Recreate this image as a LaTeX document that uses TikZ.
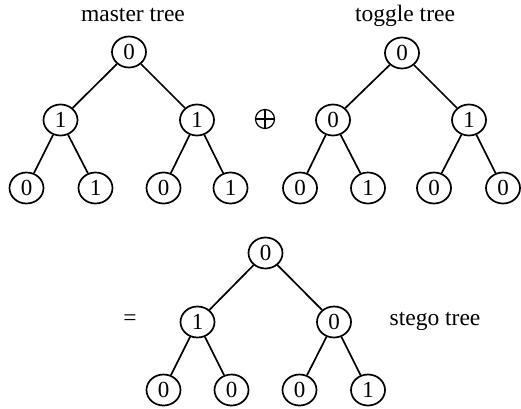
\documentclass[tikz,border=0pt]{standalone}
\usepackage{fontspec}
\setmainfont{Liberation Serif}
\usetikzlibrary{shapes.geometric}
\begin{document}
\begin{tikzpicture}[x=1pt,y=-1pt,
  tnode/.style={draw,ellipse,line width=1.7pt,minimum width=34pt,minimum height=31pt,inner sep=0pt,font=\fontsize{23}{27}\selectfont},
  edge/.style={line width=1.7pt},
  lbl/.style={font=\fontsize{23.5}{27}\selectfont,inner sep=0pt,anchor=base},
  opstyle/.style={draw,circle,line width=1.2pt,minimum size=19pt,inner sep=0pt,
    path picture={\draw[line width=1.2pt] (path picture bounding box.north) -- (path picture bounding box.south)
      (path picture bounding box.west) -- (path picture bounding box.east);}}]
\useasboundingbox (0,0) rectangle (521,408);
% master tree
\node[tnode] (m0) at (129,52) {0};
\node[tnode] (m1) at (60.5,120) {1};
\node[tnode] (m2) at (197,120) {1};
\node[tnode] (m3) at (26.5,188) {0};
\node[tnode] (m4) at (95.5,188) {1};
\node[tnode] (m5) at (163.5,188) {0};
\node[tnode] (m6) at (230.5,188) {1};
% toggle tree
\node[tnode] (t0) at (402,53) {0};
\node[tnode] (t1) at (333,120) {0};
\node[tnode] (t2) at (469,120) {1};
\node[tnode] (t3) at (300,188) {0};
\node[tnode] (t4) at (368,188) {1};
\node[tnode] (t5) at (434,188) {0};
\node[tnode] (t6) at (503,188) {0};
% stego tree
\node[tnode] (s0) at (265.5,253) {0};
\node[tnode] (s1) at (197.5,322) {1};
\node[tnode] (s2) at (334,322) {0};
\node[tnode] (s3) at (163.5,390) {0};
\node[tnode] (s4) at (231.5,390) {0};
\node[tnode] (s5) at (299.5,390) {0};
\node[tnode] (s6) at (368,390) {1};
% edges
\foreach \p/\c in {m0/m1,m0/m2,m1/m3,m1/m4,m2/m5,m2/m6,
                   t0/t1,t0/t2,t1/t3,t1/t4,t2/t5,t2/t6,
                   s0/s1,s0/s2,s1/s3,s1/s4,s2/s5,s2/s6}
  \draw[edge] (\p) -- (\c);
% labels
\node[lbl] (lm) at (133,21) {master tree};
\node[lbl] (lt) at (405,21) {toggle tree};
\node[lbl] (ls) at (435,325) {stego tree};
\node[opstyle] (op) at (265,119) {};
\node[lbl] (eq) at (130,325) {=};
\end{tikzpicture}
\end{document}
